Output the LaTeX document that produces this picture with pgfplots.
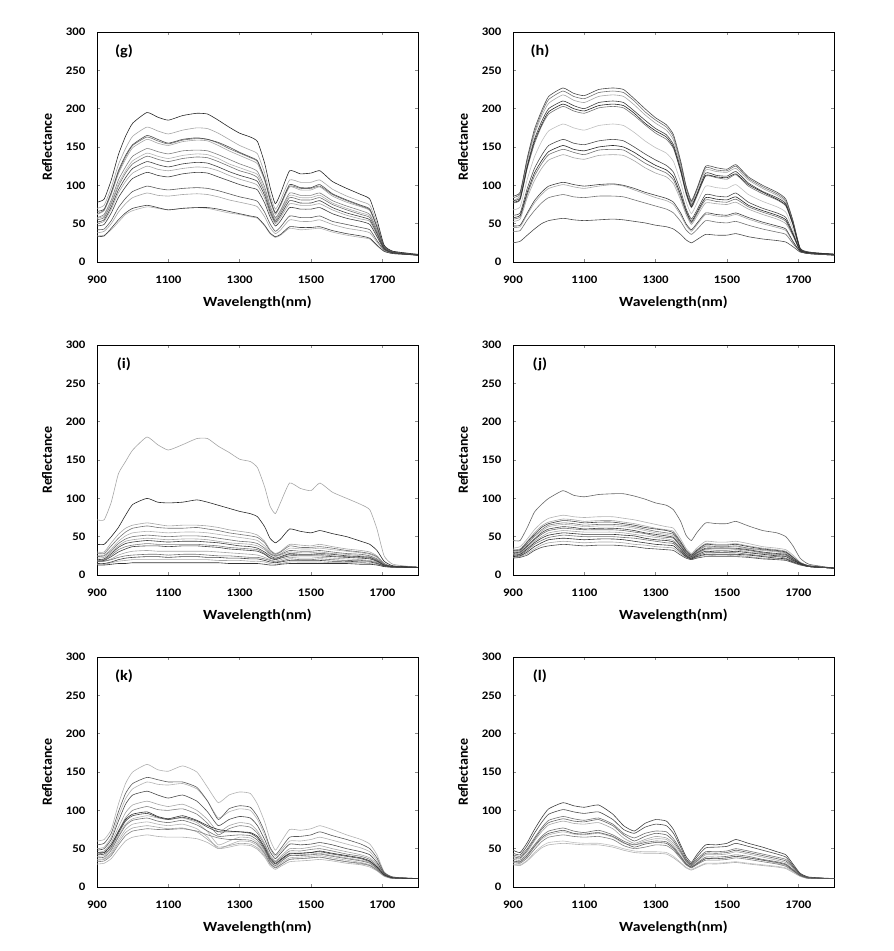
\documentclass[border=0pt]{standalone}
\usepackage{fontspec}
\setmainfont{Carlito}
\newfontfamily\wfont{Carlito}[FakeStretch=1.12]
\usepackage{pgfplots}
\usepackage{pgfplotstable}
\pgfplotsset{compat=1.18}
\newcommand\tickfont{\wfont\bfseries\fontsize{11.5}{13}\selectfont}
\newcommand\xlabfont{\wfont\bfseries\fontsize{14}{16}\selectfont}
\newcommand\ylabfont{\bfseries\fontsize{14}{16}\selectfont}
\newcommand\panfont{\wfont\bfseries\fontsize{14.5}{16}\selectfont}
\newcommand\curve[3]{\addplot[line width=0.6pt, color=black!#1, smooth, tension=0.3] table[x=x,y=#2]{#3};}

\pgfplotsset{
  panel/.style={
    scale only axis, width=321pt, height=230pt,
    xmin=900, xmax=1800, ymin=0, ymax=300,
    xtick={900,1100,1300,1500,1700},
    ytick={0,50,100,150,200,250,300},
    tick align=inside, major tick length=3pt,
    tick style={black!45, line width=0.5pt},
    axis line style={black, line width=0.9pt},
    /pgf/number format/1000 sep={},
    /pgf/number format/assume math mode=true,
    ticklabel style={font=\tickfont},
    xticklabel style={yshift=-10pt},
    yticklabel style={xshift=-8pt},
    xlabel={Wavelength(nm)}, ylabel={Reflectance},
    xlabel style={font=\xlabfont, at={(axis description cs:0.5,-0.174)}, anchor=center},
    ylabel style={font=\ylabfont, at={(axis description cs:-0.156,0.5)}, anchor=center},
    anchor=south west,
  }
}

% ---------------- panel (g) ----------------
\pgfplotstableread{
x c1 c2 c3 c4 c5 c6 c7 c8 c9 c10 c11 c12 c13 c14 c15
900 78 70 66 63 62 58 57 55 52 50 47 42 38 33 34
920 82 74 69 68 67 62 60 58 55 53 49 43 40 34 35
940 107 97 91 90 88 81 78 76 72 69 64 54 50 44 42
960 140 127 119 117 115 107 102 99 94 90 84 71 65 55 52
980 164 148 139 137 134 124 119 116 110 105 98 83 76 64 62
1000 181 164 153 152 149 138 132 128 122 116 109 92 84 70 67
1040 195 176 165 163 160 148 142 138 131 125 117 99 90 74 72
1070 189 171 160 158 155 144 138 134 127 121 113 96 87 71 70
1100 185 167 155 154 152 141 135 131 124 119 111 94 86 68 68
1140 191 172 160 159 157 145 139 135 128 122 115 96 88 70 70
1180 194 175 162 161 159 146 141 137 130 124 117 97 89 71 71
1210 193 174 160 160 158 145 140 136 129 123 116 96 88 71 70
1240 185 168 156 155 152 140 135 131 124 119 111 93 85 69 67
1270 176 160 150 148 145 134 128 125 118 113 106 89 81 66 64
1300 168 152 143 142 139 128 123 119 113 108 101 85 78 63 62
1330 163 146 137 136 133 123 118 115 109 104 97 82 75 60 59
1350 157 141 132 131 128 118 114 110 105 100 94 79 72 58 57
1370 129 116 109 108 106 98 94 91 87 83 77 65 59 48 47
1385 98 88 83 82 80 74 71 69 66 63 59 50 45 38 37
1400 76 69 64 64 62 58 56 54 52 50 47 40 37 33 32
1415 90 81 76 75 74 68 66 64 61 58 54 46 42 36 35
1440 119 107 101 99 98 90 87 84 80 76 71 60 55 46 44
1470 115 104 97 96 94 87 84 81 77 74 69 58 53 45 42
1500 116 104 97 96 94 87 84 81 77 74 69 58 53 45 43
1525 119 107 101 99 98 90 87 84 80 76 71 60 55 46 44
1560 105 95 89 88 86 80 77 75 71 68 63 53 49 41 39
1600 96 86 81 80 78 73 70 68 64 61 57 49 44 37 35
1640 88 79 74 73 72 67 64 62 59 56 53 45 41 34 32
1665 82 74 69 68 67 62 60 58 55 53 49 42 38 31 30
1685 55 50 46 46 45 42 40 39 37 35 33 28 26 22 21
1705 22 21 20 20 19 19 18 18 18 17 17 16 15 14 14
1730 14 14 13 13 13 13 13 12 12 12 12 12 11 11 11
1800 10 10 9 9 9 9 9 9 9 9 9 9 9 9 9
}\gtab

% ---------------- panel (h) ----------------
\pgfplotstableread{
x c1 c2 c3 c4 c5 c6 c7 c8 c9 c10 c11 c12 c13 c14 c15
900 86 84 80 80 78 77 68 61 58 56 53 47 45 40 25
920 91 89 87 84 82 81 72 64 61 59 56 48 46 41 27
940 136 134 131 126 124 122 108 96 91 88 84 64 62 55 35
960 173 169 166 160 157 154 137 122 116 112 106 80 77 67 43
980 197 194 190 183 179 177 157 139 132 128 122 91 88 77 50
1000 216 212 207 200 196 193 171 152 144 140 133 99 96 84 54
1040 227 223 218 210 206 203 180 160 152 147 140 104 101 88 57
1070 220 216 211 204 200 197 175 155 147 143 136 101 98 85 55
1100 217 213 208 200 197 194 172 153 145 140 134 99 96 84 54
1140 225 221 216 208 204 201 178 158 150 146 139 101 99 86 55
1180 227 223 218 210 206 203 180 160 152 147 140 102 101 86 56
1210 225 221 216 208 204 201 178 158 150 146 139 100 99 85 55
1240 213 210 205 197 194 191 169 150 143 138 132 96 94 81 53
1270 200 196 192 185 181 179 158 141 134 129 123 91 89 77 51
1300 188 185 181 174 171 168 149 133 126 122 116 87 84 73 48
1330 179 176 172 166 163 160 142 126 120 116 111 83 80 69 46
1350 166 163 159 153 150 148 131 117 111 107 102 78 75 64 43
1370 132 129 126 122 119 118 104 93 88 85 81 64 61 53 36
1385 100 98 96 92 91 89 79 70 67 65 62 50 48 42 29
1400 80 78 76 74 72 71 63 56 53 51 49 42 40 36 25
1415 95 94 92 88 87 85 76 67 64 62 59 50 48 42 29
1440 125 123 120 116 113 112 99 88 84 81 77 64 62 54 36
1470 123 120 118 113 111 110 97 86 82 79 76 62 60 52 35
1500 121 119 117 112 110 108 96 85 81 78 75 61 59 51 35
1525 127 125 122 118 115 114 101 90 85 82 78 64 62 53 37
1560 111 109 107 103 101 99 88 78 74 72 69 58 56 48 33
1600 100 98 96 92 91 89 79 70 67 65 62 52 50 43 30
1640 91 89 87 84 82 81 72 64 61 59 56 47 45 39 28
1665 82 80 78 76 74 73 65 58 55 53 50 43 41 36 26
1685 54 53 52 50 49 48 43 38 36 35 34 27 26 24 20
1705 18 18 17 17 17 17 16 16 15 15 15 14 14 14 13
1730 13 13 12 12 12 12 12 12 12 11 11 11 11 11 11
1800 10 10 10 10 10 10 10 10 10 10 9 9 9 9 9
}\htab

% ---------------- panel (i), one row per spectrum ----------------
\pgfplotstableread{
name 900 920 940 960 980 1000 1040 1070 1100 1140 1180 1210 1240 1270 1300 1330 1350 1370 1385 1400 1415 1440 1470 1500 1525 1560 1600 1640 1665 1685 1705 1730 1800
i1 72 72 95 132 148 163 180 170 163 170 178 178 168 160 151 148 140 115 90 80 95 120 113 110 120 108 100 92 85 60 25 14 10
i2 40 40 50 62 78 92 100 95 94 95 98 95 91 87 83 80 76 63 48 42 47 60 57 55 58 54 50 44 40 32 18 12 10
i3 30 30 42 53 61 65 68 66 64 65 65 64 62 59 57 55 52 44 33 28 31 40 39 38 40 37 34 32 30 25 15 11 10
i4 28 28 38 48 56 61 64 62 61 61 62 60 58 55 53 51 49 42 32 27 30 38 36 36 37 35 32 30 28 24 15 11 10
i5 25 26 34 44 51 55 57 56 55 56 56 55 53 51 49 47 45 38 30 26 28 35 34 34 35 33 31 29 27 23 14 11 10
i6 24 25 32 41 47 50 52 51 50 51 51 50 48 46 44 43 41 35 28 25 27 32 31 31 32 30 28 27 25 21 14 11 10
i7 22 23 30 38 44 46 48 47 46 47 47 46 44 42 41 40 38 33 27 24 26 30 29 29 30 28 27 25 24 20 14 11 10
i8 20 21 28 36 41 43 45 44 43 44 44 43 42 40 38 37 35 30 25 22 24 28 27 27 28 27 25 24 23 19 13 11 10
i9 19 20 26 33 37 39 41 40 40 40 40 39 38 36 35 34 33 28 23 21 23 27 26 26 27 25 24 23 22 18 13 11 10
i10 18 19 24 30 34 37 38 38 37 38 38 37 36 34 33 32 31 27 22 20 22 25 25 25 25 24 23 22 21 18 13 11 10
i11 17 18 21 26 29 31 32 31 31 31 31 31 30 29 28 27 26 23 20 18 20 23 22 22 23 22 21 20 19 17 13 11 10
i12 18 18 20 23 25 26 27 27 26 27 27 26 25 25 24 23 23 21 19 17 18 21 20 20 21 20 19 19 18 16 12 11 10
i13 15 15 17 20 22 23 24 24 23 24 24 23 23 22 22 21 21 19 17 16 17 19 19 19 19 18 18 17 17 15 12 11 10
i14 14 14 16 18 19 20 20 20 20 20 20 20 19 19 19 18 18 17 15 14 15 17 17 17 17 16 16 16 15 14 12 10 10
i15 13 13 14 15 15 16 16 16 16 16 16 16 16 15 15 15 15 14 13 13 14 15 15 15 15 15 15 14 14 13 11 10 10
}\itabraw
\pgfplotstabletranspose[colnames from=name, input colnames to=x]{\itab}{\itabraw}

% ---------------- panel (j) ----------------
\pgfplotstableread{
name 900 920 940 960 980 1000 1040 1070 1100 1140 1180 1210 1240 1270 1300 1330 1350 1370 1385 1400 1415 1440 1470 1500 1525 1560 1600 1640 1665 1685 1705 1730 1800
j1 45 45 62 82 92 100 110 104 102 105 106 106 103 99 94 91 85 70 52 45 55 68 67 67 70 64 58 55 50 38 22 14 9
j2 35 37 47 59 68 74 78 76 75 76 76 74 72 69 66 63 61 47 35 28 35 44 43 43 44 41 37 35 33 26 17 12 9
j3 33 34 44 55 64 69 73 72 70 71 71 69 67 64 61 59 57 44 33 27 33 41 40 40 41 38 35 33 31 24 16 12 9
j4 32 33 43 53 62 67 71 70 68 69 69 67 65 62 60 58 55 43 32 26 32 40 39 39 40 37 34 32 30 23 16 12 9
j5 31 32 41 51 59 65 68 67 65 66 66 65 63 60 57 55 53 41 31 25 31 38 37 37 38 35 33 31 29 23 16 12 9
j6 30 31 40 50 57 63 66 65 63 64 64 63 61 58 55 53 51 40 30 25 30 37 36 36 37 34 32 30 28 22 16 12 9
j7 29 30 38 47 55 60 63 62 60 61 61 60 58 55 53 51 49 38 29 24 29 35 35 35 35 33 30 28 27 21 15 11 9
j8 28 29 37 46 53 58 61 60 59 59 59 58 56 54 51 49 48 37 28 23 28 34 34 34 34 32 29 27 26 20 15 11 9
j9 27 28 35 44 50 55 58 57 56 56 56 55 53 51 49 47 45 35 27 23 27 33 32 32 33 30 28 26 25 20 15 11 9
j10 26 27 34 42 48 52 55 54 53 53 53 52 51 48 46 45 43 34 26 22 26 31 30 30 31 29 27 25 24 19 15 11 9
j11 25 26 32 40 45 49 52 51 50 50 50 49 48 46 44 42 41 32 25 21 25 29 29 29 29 27 25 24 22 18 14 11 9
j12 24 25 30 37 42 46 48 47 46 47 47 46 44 42 40 39 38 30 24 21 24 27 27 27 27 26 24 22 21 17 14 11 9
j13 23 24 28 34 39 42 44 43 42 43 43 42 40 39 37 36 35 28 23 20 23 26 25 25 26 24 22 21 20 17 14 11 9
j14 22 23 26 32 36 38 40 39 38 39 39 38 37 35 34 33 32 26 22 20 22 24 24 24 24 23 21 20 19 16 13 11 9
}\jtabraw
\pgfplotstabletranspose[colnames from=name, input colnames to=x]{\jtab}{\jtabraw}

% ---------------- panel (k) ----------------
\pgfplotstableread{
name 900 920 940 960 980 1000 1040 1070 1100 1140 1180 1210 1240 1270 1300 1330 1350 1370 1385 1400 1415 1440 1470 1500 1525 1560 1600 1640 1665 1685 1705 1730 1800
k1 60 62 75 108 135 150 160 153 151 158 150 130 110 120 124 122 108 85 62 48 58 75 74 76 80 75 68 62 56 42 20 13 11
k2 55 57 70 98 122 135 143 140 137 137 130 112 88 102 106 104 92 72 52 42 50 65 66 68 72 67 62 56 50 38 19 13 11
k3 50 52 65 92 115 128 137 134 133 135 128 112 90 98 102 100 88 68 50 40 47 60 60 62 65 61 56 51 46 35 18 13 11
k4 48 50 62 86 108 120 125 120 116 120 112 98 80 88 92 90 80 62 46 37 44 56 55 56 58 55 50 46 42 32 18 12 11
k5 45 47 58 78 97 107 112 108 105 108 100 88 72 80 84 82 73 57 42 34 40 50 50 52 54 50 46 42 38 30 17 12 11
k6 43 45 55 73 90 100 105 101 100 102 95 83 68 76 80 78 70 55 40 33 38 47 47 49 50 47 43 40 36 28 17 12 11
k7 45 45 55 72 88 95 98 92 89 93 87 80 75 73 72 71 66 52 38 31 36 44 44 45 47 44 41 38 34 26 16 12 11
k8 42 43 52 70 86 93 96 91 88 91 86 78 72 72 72 70 64 50 36 30 35 43 44 45 46 43 40 37 33 26 16 12 11
k9 40 41 50 67 82 89 93 90 88 90 84 72 55 60 65 64 58 46 34 28 33 41 42 43 44 41 38 35 32 25 15 12 11
k10 38 39 48 65 80 87 90 86 84 87 81 73 66 67 68 67 61 48 34 28 33 41 41 42 43 40 37 34 31 24 15 12 11
k11 36 37 45 61 75 82 85 82 80 82 76 65 50 55 60 59 54 43 32 26 31 38 39 40 41 38 35 32 29 23 15 12 11
k12 35 36 43 58 71 77 80 78 76 77 72 62 52 54 57 56 51 41 30 25 29 36 37 38 39 36 33 30 28 22 15 11 11
k13 33 34 41 55 67 73 76 75 75 76 73 68 64 62 62 61 56 44 31 25 29 36 37 38 39 36 33 31 28 22 15 11 11
k14 30 31 37 49 60 65 68 66 65 65 63 58 50 52 55 54 49 39 28 23 27 33 34 35 36 34 31 29 26 21 14 11 11
}\ktabraw
\pgfplotstabletranspose[colnames from=name, input colnames to=x]{\ktab}{\ktabraw}

% ---------------- panel (l) ----------------
\pgfplotstableread{
name 900 920 940 960 980 1000 1040 1070 1100 1140 1180 1210 1240 1270 1300 1330 1350 1370 1385 1400 1415 1440 1470 1500 1525 1560 1600 1640 1665 1685 1705 1730 1800
l1 48 45 58 75 90 102 110 106 104 107 95 80 73 83 88 86 75 55 40 32 42 55 55 57 62 57 52 46 42 30 18 13 11
l2 44 42 54 70 84 95 101 98 96 98 88 75 70 78 82 80 70 52 37 30 39 51 52 53 57 53 48 43 39 28 17 12 11
l3 42 40 50 64 77 87 92 89 87 90 82 70 64 70 73 72 63 48 35 29 36 46 46 47 50 47 43 39 36 27 17 12 11
l4 40 38 48 62 75 84 89 86 85 88 80 68 60 66 70 68 60 46 34 28 34 44 44 45 48 45 41 37 34 26 16 12 11
l5 38 37 46 60 72 81 86 83 82 84 76 64 57 62 66 64 57 44 33 27 33 42 42 43 46 43 39 35 32 25 16 12 11
l6 36 35 43 55 66 73 77 73 71 74 68 60 55 58 60 59 52 40 31 26 31 39 39 40 42 40 36 33 30 23 16 12 11
l7 34 33 41 53 64 70 74 70 69 71 66 58 52 56 58 57 50 39 30 26 30 37 37 38 40 38 35 32 29 22 15 12 11
l8 33 32 40 52 62 68 72 69 68 70 65 57 55 60 63 62 54 41 30 25 30 37 37 38 40 38 35 31 28 22 15 12 11
l9 32 31 38 49 59 65 68 66 65 66 62 54 50 52 55 54 48 37 29 25 29 35 35 36 38 36 33 30 27 21 15 11 11
l10 30 29 35 45 53 58 60 58 57 57 54 50 47 46 46 45 40 32 26 23 26 31 31 32 33 31 29 27 25 20 14 11 11
l11 29 28 34 43 51 55 57 56 55 55 52 48 45 44 44 43 38 31 25 22 25 30 30 31 32 30 28 26 24 19 14 11 11
}\ltabraw
\pgfplotstabletranspose[colnames from=name, input colnames to=x]{\ltab}{\ltabraw}

\begin{document}
\begin{tikzpicture}
\useasboundingbox (0,0) rectangle (894pt,-951pt);

% (g)
\begin{axis}[panel, at={(97pt,-262pt)}]
\curve{35}{c2}{\gtab}\curve{35}{c5}{\gtab}\curve{30}{c7}{\gtab}\curve{35}{c10}{\gtab}\curve{35}{c13}{\gtab}\curve{30}{c15}{\gtab}
\curve{55}{c4}{\gtab}\curve{50}{c6}{\gtab}\curve{55}{c8}{\gtab}\curve{65}{c12}{\gtab}
\curve{85}{c1}{\gtab}\curve{70}{c3}{\gtab}\curve{75}{c9}{\gtab}\curve{75}{c11}{\gtab}\curve{75}{c14}{\gtab}
\node[font=\panfont] at (rel axis cs:0.084,0.917) {(g)};
\end{axis}

% (h)
\begin{axis}[panel, at={(513pt,-262pt)}]
\curve{35}{c3}{\htab}\curve{25}{c7}{\htab}\curve{35}{c11}{\htab}\curve{35}{c13}{\htab}
\curve{55}{c2}{\htab}\curve{55}{c6}{\htab}\curve{55}{c10}{\htab}\curve{55}{c14}{\htab}
\curve{70}{c1}{\htab}\curve{75}{c4}{\htab}\curve{85}{c5}{\htab}\curve{70}{c8}{\htab}\curve{85}{c9}{\htab}\curve{75}{c12}{\htab}\curve{70}{c15}{\htab}
\node[font=\panfont] at (rel axis cs:0.084,0.917) {(h)};
\end{axis}

% (i)
\begin{axis}[panel, at={(97pt,-575pt)}]
\curve{35}{i1}{\itab}\curve{35}{i3}{\itab}\curve{30}{i5}{\itab}\curve{35}{i7}{\itab}\curve{35}{i11}{\itab}\curve{35}{i14}{\itab}
\curve{55}{i4}{\itab}\curve{55}{i6}{\itab}\curve{50}{i9}{\itab}\curve{55}{i12}{\itab}
\curve{85}{i2}{\itab}\curve{75}{i8}{\itab}\curve{75}{i10}{\itab}\curve{75}{i13}{\itab}\curve{80}{i15}{\itab}
\node[font=\panfont] at (rel axis cs:0.084,0.917) {(i)};
\end{axis}

% (j)
\begin{axis}[panel, at={(513pt,-575pt)}]
\curve{30}{j2}{\jtab}\curve{35}{j3}{\jtab}\curve{30}{j6}{\jtab}\curve{35}{j9}{\jtab}\curve{35}{j13}{\jtab}
\curve{60}{j1}{\jtab}\curve{55}{j5}{\jtab}\curve{55}{j8}{\jtab}\curve{55}{j11}{\jtab}
\curve{75}{j4}{\jtab}\curve{75}{j7}{\jtab}\curve{80}{j10}{\jtab}\curve{80}{j12}{\jtab}\curve{70}{j14}{\jtab}
\node[font=\panfont] at (rel axis cs:0.084,0.917) {(j)};
\end{axis}

% (k)
\begin{axis}[panel, at={(97pt,-887pt)}]
\curve{30}{k1}{\ktab}\curve{30}{k3}{\ktab}\curve{35}{k5}{\ktab}\curve{30}{k9}{\ktab}\curve{30}{k11}{\ktab}\curve{35}{k12}{\ktab}\curve{30}{k14}{\ktab}
\curve{50}{k6}{\ktab}\curve{55}{k10}{\ktab}\curve{50}{k13}{\ktab}
\curve{65}{k2}{\ktab}\curve{70}{k4}{\ktab}\curve{70}{k8}{\ktab}\curve{80}{k7}{\ktab}
\node[font=\panfont] at (rel axis cs:0.084,0.917) {(k)};
\end{axis}

% (l)
\begin{axis}[panel, at={(513pt,-887pt)}]
\curve{35}{l5}{\ltab}\curve{30}{l8}{\ltab}\curve{25}{l10}{\ltab}\curve{30}{l11}{\ltab}
\curve{55}{l3}{\ltab}\curve{60}{l4}{\ltab}\curve{55}{l6}{\ltab}\curve{50}{l9}{\ltab}
\curve{75}{l1}{\ltab}\curve{70}{l2}{\ltab}\curve{65}{l7}{\ltab}
\node[font=\panfont] at (rel axis cs:0.084,0.917) {(l)};
\end{axis}
\end{tikzpicture}
\end{document}
